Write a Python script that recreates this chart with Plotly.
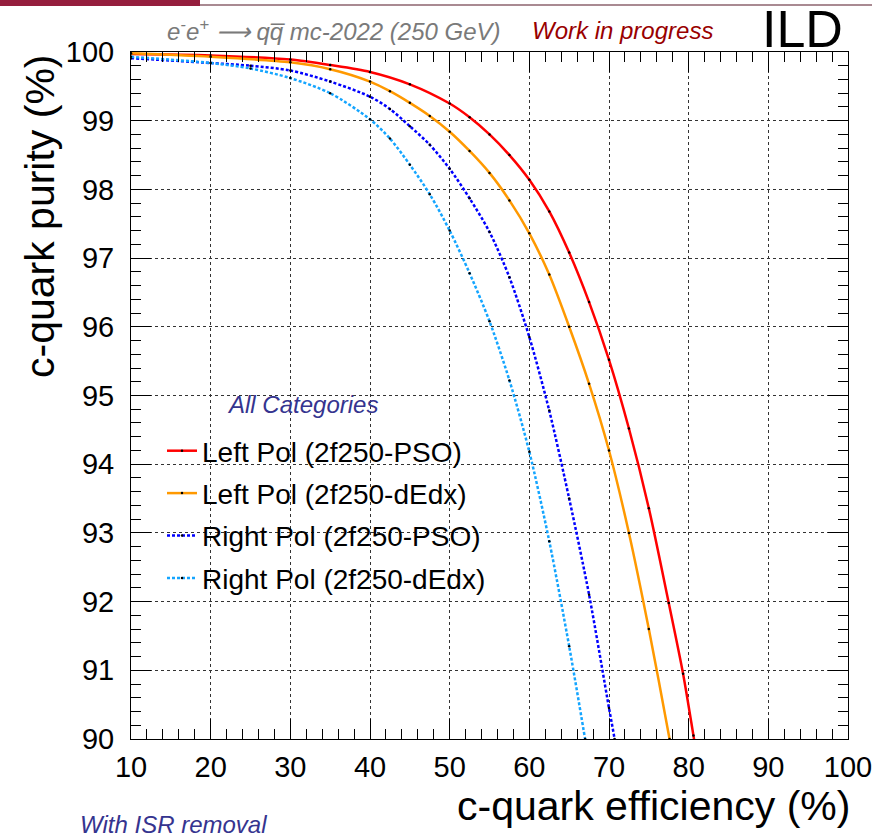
import plotly.graph_objects as go

# ---- data ----
red_x = [10, 20, 30, 35, 40, 45, 50, 52.5, 55, 57.5, 60, 62.5, 65, 67.5, 70, 72.5, 75, 77.5, 79.3, 80.6, 81.1]
red_y = [99.97, 99.95, 99.89, 99.81, 99.71, 99.53, 99.25, 99.05, 98.8, 98.5, 98.14, 97.68, 97.08, 96.36, 95.52, 94.52, 93.36, 91.98, 90.95, 90.05, 89.7]

orange_x = [10, 20, 30, 35, 40, 42.5, 45, 47.5, 50, 52.5, 55, 57.5, 60, 62.5, 65, 67.5, 70, 72.5, 75, 77.6, 78.2]
orange_y = [99.98, 99.93, 99.85, 99.75, 99.57, 99.43, 99.26, 99.07, 98.84, 98.56, 98.24, 97.84, 97.36, 96.76, 96.0, 95.17, 94.2, 93.0, 91.6, 90.0, 89.6]

blue_x = [10, 20, 25, 30, 35, 40, 42.5, 45, 47.5, 50, 52.5, 55, 57.5, 60, 62.5, 65, 67.5, 70, 70.7, 71.2]
blue_y = [99.91, 99.84, 99.8, 99.73, 99.57, 99.35, 99.17, 98.92, 98.65, 98.3, 97.87, 97.38, 96.72, 95.85, 94.78, 93.5, 92.1, 90.45, 90.0, 89.6]

cyan_x = [10, 20, 25, 30, 35, 40, 42.5, 45, 47.5, 50, 52.5, 55, 57.5, 60, 62.5, 65, 67, 67.5]
cyan_y = [99.93, 99.84, 99.76, 99.62, 99.4, 99.02, 98.74, 98.36, 97.93, 97.4, 96.78, 96.08, 95.22, 94.18, 92.88, 91.35, 90.0, 89.65]

series_names = ["Left Pol (2f250-PSO)", "Left Pol (2f250-dEdx)", "Right Pol (2f250-PSO)", "Right Pol (2f250-dEdx)"]
x_ticks = [10, 20, 30, 40, 50, 60, 70, 80, 90, 100]
y_ticks = [90, 91, 92, 93, 94, 95, 96, 97, 98, 99, 100]

# ---- layout geometry (pixels) ----
W, H = 872, 836
L, R, T, B = 131, 848, 52, 739
PW, PH = R - L, B - T

def px(x):
    return (x - L) / PW

def py(y):
    return (B - y) / PH

FONT = "Liberation Sans, Arial, Helvetica, sans-serif"

fig = go.Figure()

styles = [
    (red_x, red_y, "#ff0000", "solid"),
    (orange_x, orange_y, "#ff9900", "solid"),
    (blue_x, blue_y, "#0000ff", "3px,2px"),
    (cyan_x, cyan_y, "#14a5ff", "3px,2px"),
]
for i, ((xs, ys, col, dash), name) in enumerate(zip(styles, series_names)):
    fig.add_trace(go.Scatter(
        x=xs, y=ys, name=name, mode="lines+markers",
        line=dict(color=col, width=2.5, dash=dash, shape="spline", smoothing=0.8),
        marker=dict(color="black", size=2.5),
        legendgroup=f"g{i}",
    ))

axis_common = dict(
    showline=True, linecolor="black", linewidth=1, mirror="allticks",
    ticks="inside", ticklen=20, tickwidth=1, tickcolor="black",
    showgrid=True, gridcolor="#333", griddash="dot", gridwidth=1,
    zeroline=False, automargin=False,
    tickfont=dict(family=FONT, size=29, color="black"),
    ticklabeloverflow="allow",
)

fig.update_xaxes(
    range=[10, 100], tickvals=x_ticks, ticktext=[str(v) for v in x_ticks],
    minor=dict(dtick=2, ticks="inside", ticklen=10, tickcolor="black", showgrid=False),
    ticklabelstandoff=2,
    **axis_common,
)
fig.update_yaxes(
    range=[90, 100], tickvals=y_ticks, ticktext=[str(v) for v in y_ticks],
    minor=dict(dtick=0.2, ticks="inside", ticklen=10, tickcolor="black", showgrid=False),
    ticklabelstandoff=10,
    **axis_common,
)

annotations = [
    dict(text="c-quark efficiency (%)", x=px(852), y=py(806), xanchor="right", yanchor="middle",
         font=dict(family=FONT, size=41, color="black")),
    dict(text="c-quark purity (%)", x=px(40), y=1.0, xanchor="center", yanchor="top",
         textangle=-90, font=dict(family=FONT, size=41, color="black")),
    dict(text="<i>e<sup>-</sup>e<sup>+</sup> \u27f6 q</i><i>q\u0305 mc-2022 (250 GeV)</i>", x=px(165), y=py(30),
         xanchor="left", yanchor="middle", font=dict(family=FONT, size=24, color="#7a7a7a")),
    dict(text="<i>Work in progress</i>", x=px(530), y=py(30), xanchor="left", yanchor="middle",
         font=dict(family=FONT, size=24, color="#990000")),
    dict(text="ILD", x=px(845), y=py(29), xanchor="right", yanchor="middle",
         font=dict(family=FONT, size=52, color="black")),
    dict(text="<i>All Categories</i>", x=px(225), y=py(404), xanchor="left", yanchor="middle",
         font=dict(family=FONT, size=24, color="#35348f")),
    dict(text="<i>With ISR removal</i>", x=px(78), y=py(824), xanchor="left", yanchor="middle",
         font=dict(family=FONT, size=24, color="#35348f")),
    # slide header bar
    dict(text=" ", x=px(0), y=py(0), xanchor="left", yanchor="top", width=200, height=6,
         bgcolor="#951e3d", borderpad=0, borderwidth=0, font=dict(size=1)),
    dict(text=" ", x=px(200), y=py(4), xanchor="left", yanchor="top", width=672, height=2,
         bgcolor="#a98a92", borderpad=0, borderwidth=0, font=dict(size=1)),
]
for a in annotations:
    a.update(xref="paper", yref="paper", showarrow=False)

fig.update_layout(
    width=W, height=H,
    margin=dict(l=L, r=W - R, t=T, b=H - B, pad=0, autoexpand=False),
    paper_bgcolor="white", plot_bgcolor="white",
    font=dict(family=FONT, color="black"),
    annotations=annotations,
    showlegend=True,
    legend=dict(
        x=px(162), y=py(426), xanchor="left", yanchor="top",
        bgcolor="rgba(0,0,0,0)", borderwidth=0,
        font=dict(family=FONT, size=28, color="black"),
        itemwidth=30, tracegroupgap=3, traceorder="grouped",
    ),
)

fig.write_html("out.html", config={"displayModeBar": False},
               post_script="document.body.style.margin='0';")
